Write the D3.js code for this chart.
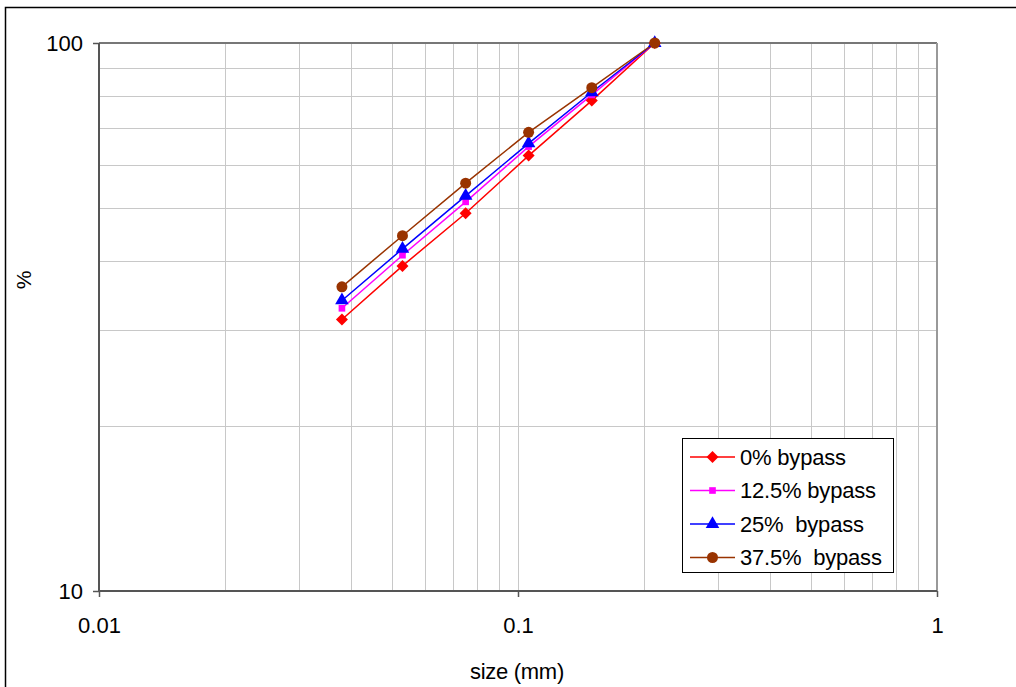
<!DOCTYPE html>
<html lang="en">
<head>
  <meta charset="UTF-8">
  <title>Size distribution</title>
  <script src="https://d3js.org/d3.v7.min.js"></script>
  <style>
    body { margin: 0; background: white; font-family: "Liberation Sans", Arial, sans-serif; }
    svg { display: block; }
  </style>
</head>
<body>
  <div id="vis"></div>

  <script>
    // sieve sizes (mm) and cumulative % passing
    const sizes = [0.038, 0.053, 0.075, 0.106, 0.150, 0.212];
    const bypass0 = [31.3, 39.2, 48.9, 62.3, 78.5, 100];
    const bypass125 = [32.8, 41.0, 51.3, 64.7, 80.4, 100];
    const bypass25 = [33.9, 42.1, 52.6, 65.6, 81.3, 100];
    const bypass375 = [35.9, 44.5, 55.5, 68.7, 82.9, 100];

    const seriesNames = ["0% bypass", "12.5% bypass", "25%  bypass", "37.5%  bypass"];
    const xTicks = [0.01, 0.1, 1];
    const yTicks = [10, 100];

    const series = [
      { name: seriesNames[0], values: bypass0, color: "#ff0000", symbol: "diamond" },
      { name: seriesNames[1], values: bypass125, color: "#ff00ff", symbol: "square" },
      { name: seriesNames[2], values: bypass25, color: "#0000ff", symbol: "triangle" },
      { name: seriesNames[3], values: bypass375, color: "#993300", symbol: "circle" }
    ];

    const W = 1016, H = 687;
    const margin = { top: 43, right: 79, bottom: 96, left: 99 };
    const width = W - margin.left - margin.right;
    const height = H - margin.top - margin.bottom;

    const svg = d3.select("#vis").append("svg")
      .attr("width", W)
      .attr("height", H);

    // outer chart border
    svg.append("rect")
      .attr("x", 5.5).attr("y", 7.5)
      .attr("width", 1020).attr("height", 700)
      .attr("fill", "none")
      .attr("stroke", "#000")
      .attr("stroke-width", 1.5);

    const g = svg.append("g").attr("transform", `translate(${margin.left},${margin.top})`);

    const x = d3.scaleLog().domain([0.01, 1]).range([0, width]);
    const y = d3.scaleLog().domain([10, 100]).range([height, 0]);

    // gridlines (major + minor)
    const xGrid = x.ticks().filter(d => d > 0.01 && d < 1);
    const yGrid = y.ticks().filter(d => d > 10 && d < 100);

    g.selectAll(".vgrid").data(xGrid).enter().append("line")
      .attr("x1", d => Math.round(x(d)) + 0.5).attr("x2", d => Math.round(x(d)) + 0.5)
      .attr("y1", 0).attr("y2", height)
      .attr("stroke", "#c8c8c8").attr("stroke-width", 1);

    g.selectAll(".hgrid").data(yGrid).enter().append("line")
      .attr("x1", 0).attr("x2", width)
      .attr("y1", d => Math.round(y(d)) + 0.5).attr("y2", d => Math.round(y(d)) + 0.5)
      .attr("stroke", "#c8c8c8").attr("stroke-width", 1);

    // plot area border (top/right)
    g.append("line").attr("x1", 0).attr("x2", width).attr("y1", 0).attr("y2", 0)
      .attr("stroke", "#777").attr("stroke-width", 2);
    g.append("line").attr("x1", width).attr("x2", width).attr("y1", 0).attr("y2", height)
      .attr("stroke", "#999").attr("stroke-width", 2);

    // axes
    const xAxis = g.append("g")
      .attr("transform", `translate(0,${height})`)
      .call(d3.axisBottom(x).tickValues(xTicks).tickFormat(d => String(d)).tickSize(6).tickPadding(20));
    const yAxis = g.append("g")
      .call(d3.axisLeft(y).tickValues(yTicks).tickFormat(d => String(d)).tickSize(6).tickPadding(10));

    [xAxis, yAxis].forEach(a => {
      a.select(".domain").attr("stroke", "#555").attr("stroke-width", 2);
      a.selectAll(".tick line").attr("stroke", "#555").attr("stroke-width", 1.5);
      a.selectAll(".tick text")
        .attr("fill", "#000")
        .style("font-family", "'Liberation Sans', Arial, sans-serif")
        .style("font-size", "22px");
    });
    xAxis.select(".domain").attr("d", `M0,0H${width}`);
    yAxis.select(".domain").attr("d", `M0,${height}V0`);

    // axis titles
    svg.append("text")
      .attr("x", margin.left + width / 2 - 1)
      .attr("y", 679)
      .attr("text-anchor", "middle")
      .style("font-size", "22px")
      .style("letter-spacing", "-0.3px")
      .text("size (mm)");

    svg.append("text")
      .attr("transform", "translate(31,280) rotate(-90)")
      .attr("text-anchor", "middle")
      .style("font-size", "21px")
      .text("%");

    // series
    const line = d3.line()
      .x(d => x(d[0]))
      .y(d => y(d[1]));

    const symbolType = {
      diamond: d3.symbolSquare,
      square: d3.symbolSquare,
      triangle: d3.symbolTriangle,
      circle: d3.symbolCircle
    };
    const symbolSize = { diamond: 72, square: 44, triangle: 80, circle: 95 };
    const symbolRotate = { diamond: 45, square: 0, triangle: 0, circle: 0 };

    function marker(sel, s) {
      sel.append("path")
        .attr("d", d3.symbol().type(symbolType[s.symbol]).size(symbolSize[s.symbol]))
        .attr("transform", d => `translate(${d.x},${d.y}) rotate(${symbolRotate[s.symbol]})`)
        .attr("fill", s.color);
    }

    series.forEach(s => {
      const pts = sizes.map((v, i) => [v, s.values[i]]);
      g.append("path")
        .datum(pts)
        .attr("fill", "none")
        .attr("stroke", s.color)
        .attr("stroke-width", 1.5)
        .attr("d", line);
    });

    series.forEach(s => {
      const pts = sizes.map((v, i) => ({ x: x(v), y: y(s.values[i]) }));
      const mg = g.append("g");
      mg.selectAll("path").data(pts).enter().call(sel => marker(sel, s));
    });

    // legend
    const legend = svg.append("g").attr("transform", "translate(682,438)");
    legend.append("rect")
      .attr("x", 0.5).attr("y", 0.5)
      .attr("width", 211).attr("height", 134)
      .attr("fill", "white")
      .attr("stroke", "#000")
      .attr("stroke-width", 1);

    series.forEach((s, i) => {
      const ly = 19 + i * 33.5;
      const row = legend.append("g");
      row.append("line")
        .attr("x1", 8).attr("x2", 53)
        .attr("y1", ly).attr("y2", ly)
        .attr("stroke", s.color).attr("stroke-width", 1.5);
      row.selectAll("path").data([{ x: 30.5, y: ly }]).enter().call(sel => marker(sel, s));
      row.append("text")
        .attr("x", 58)
        .attr("y", ly + 7.5)
        .style("font-size", "22px")
        .style("letter-spacing", "-0.2px")
        .style("white-space", "pre")
        .attr("xml:space", "preserve")
        .text(s.name);
    });
  </script>
</body>
</html>
